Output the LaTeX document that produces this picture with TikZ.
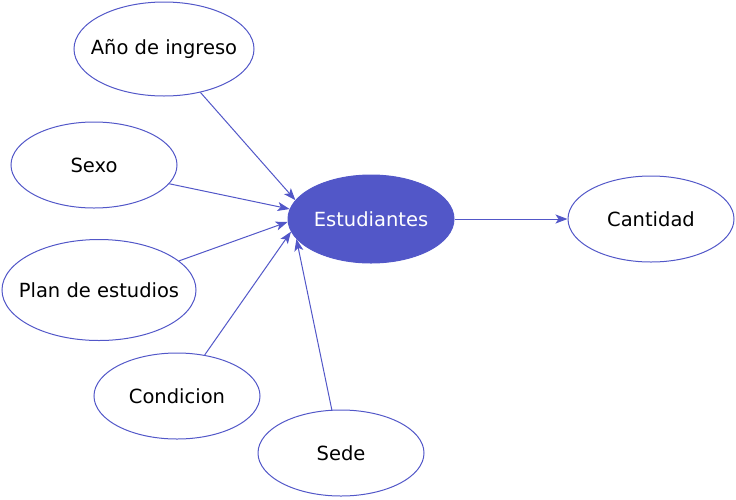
\documentclass[tikz,border=0pt]{standalone}
\usepackage{fontspec}
\setmainfont{DejaVu Sans}
\usetikzlibrary{shapes.geometric,arrows.meta}
\definecolor{eblue}{HTML}{5257C8}
\newcommand{\zt}[1]{\makebox[0pt][c]{#1}}
\tikzset{
  ent/.style={ellipse, draw=eblue, line width=1pt, minimum width=#1, inner sep=0pt, font=\fontsize{19.5}{22}\selectfont},
  ent/.default={166pt},
  conn/.style={draw=eblue, line width=1pt, -{Stealth[length=12pt,width=9pt,inset=3pt]}}
}
\begin{document}
\begin{tikzpicture}[x=1pt,y=-1pt]
\useasboundingbox (0,0) rectangle (736,499);
\node[ent=180pt, minimum height=94pt] (ano) at (164,49) {\zt{Año de ingreso}};
\node[ent=166pt, minimum height=86pt] (sexo) at (94,165) {\zt{Sexo}};
\node[ent=194pt, minimum height=101pt] (plan) at (99,290) {\zt{Plan de estudios}};
\node[ent=166pt, minimum height=86pt] (cond) at (177,396) {\zt{Condicion}};
\node[ent=166pt, minimum height=86pt] (sede) at (341,453) {\zt{Sede}};
\node[ent=166pt, minimum height=88pt, fill=eblue, text=white] (est) at (371,219) {\zt{Estudiantes}};
\node[ent=166pt, minimum height=86pt] (cant) at (651,219) {\zt{Cantidad}};
\draw[conn] (ano.-50) -- (est.166);
\draw[conn] (sexo.-14) -- (est.173);
\draw[conn] (plan.20) -- (est.-178);
\draw[conn] (cond.56) -- (est.-171.5);
\draw[conn] (sede.102) -- (est.-165.6);
\draw[conn] (est.east) -- (cant.west);
\end{tikzpicture}
\end{document}
